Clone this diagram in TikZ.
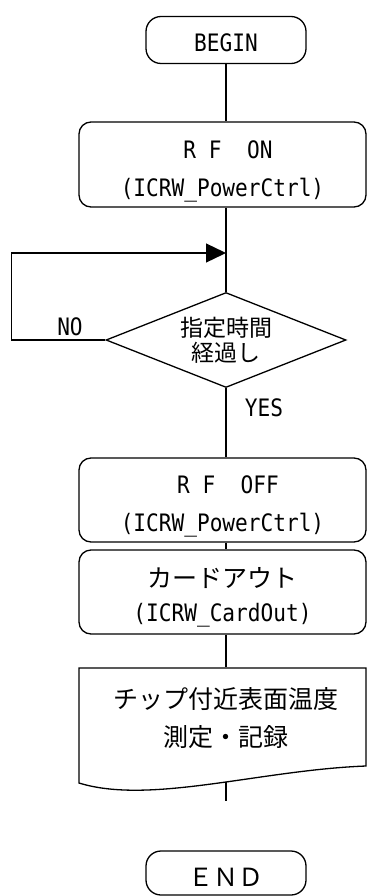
\documentclass[tikz,border=0pt]{standalone}
\usepackage{fontspec}
\newfontfamily\jp{Noto Sans CJK JP}
\newfontfamily\mono[FakeStretch=0.88]{DejaVu Sans Mono}
\usetikzlibrary{shapes.geometric,arrows.meta,calc}
\begin{document}
\begin{tikzpicture}[x=1pt,y=-1pt,line width=1.3pt,
  term/.style={draw,rounded corners=15pt,minimum width=160pt,minimum height=47pt,inner sep=0pt},
  proc/.style={draw,rounded corners=12pt,minimum width=287pt,inner sep=0pt},
  lat/.style={font=\mono\fontsize{24}{26}\selectfont,inner sep=0pt},
  jpt/.style={font=\jp\fontsize{25}{28}\selectfont,inner sep=0pt},
  dec/.style={draw,diamond,aspect=2.5,inner sep=0pt,minimum width=240pt,minimum height=95pt,align=center,font=\jp\fontsize{23}{25}\selectfont},
  tip/.style={-{Triangle[length=20pt,width=19pt]}}]
\useasboundingbox (0,0) rectangle (367,896);
% BEGIN
\node[term] (begin) at (226,40) {};
\node[lat] (tbegin) at (226,43) {BEGIN};
% RF ON
\node[proc,minimum height=85pt] (rfon) at (222.5,164.5) {};
\node[lat] (ton1) at (228,150) {R~F~~ON};
\node[lat] (ton2) at (222.5,190) {(ICRW\_PowerCtrl)};
% decision
\node[dec] (dec) at (226,340) {指定時間\\経過し};
\coordinate (m) at (226,253);
\node[lat] (no) at (70,327) {NO};
\node[lat] (yes) at (264,408) {YES};
% RF OFF
\node[proc,minimum height=84pt] (rfoff) at (222.5,500) {};
\node[lat] (toff1) at (228,485) {R~F~~OFF};
\node[lat] (toff2) at (222.5,525) {(ICRW\_PowerCtrl)};
% card out
\node[proc,minimum height=84pt] (card) at (222.5,592) {};
\node[jpt] (tcard1) at (222.5,578) {カードアウト};
\node[lat] (tcard2) at (222.5,615) {(ICRW\_CardOut)};
% document
\node[minimum width=287pt,minimum height=100pt,inner sep=0pt] (doc) at (222.5,718) {};
\draw (79,668) -- (366,668) -- (366,766)
  .. controls (260,770) and (150,805) .. (79,783) -- cycle;
\node[jpt] (tdoc1) at (226,699) {チップ付近表面温度};
\node[jpt] (tdoc2) at (226,737) {測定・記録};
\coordinate (docb) at (226,782);
\coordinate (stub) at (226,801);
% END
\node[term,minimum height=44pt] (end) at (226,873) {};
\node[jpt] (tend) at (226,877) {ＥＮＤ};
% connectors
\draw (begin.south) -- (begin.south |- rfon.north);
\draw (dec.north |- rfon.south) -- (dec.north);
\draw[tip] (dec.west) -- ++(-94,0) |- (m);
\draw (dec.south) -- (dec.south |- rfoff.north);
\draw (dec.south |- rfoff.south) -- (dec.south |- card.north);
\draw (dec.south |- card.south) -- (dec.south |- doc.north);
\draw (docb) -- (stub);
\end{tikzpicture}
\end{document}
